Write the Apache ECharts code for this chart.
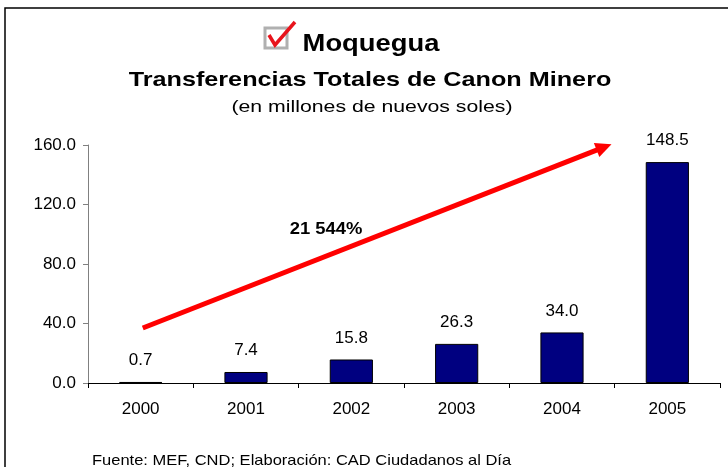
<!DOCTYPE html>
<html><head><meta charset="utf-8">
<script src="https://cdn.jsdelivr.net/npm/echarts@6/dist/echarts.min.js"></script>
<style>html,body{margin:0;padding:0;background:#fff;}#c{width:728px;height:467px;}</style>
</head><body><div id="c"></div>
<script>
var years = ['2000','2001','2002','2003','2004','2005'];
var values = [0.7, 7.4, 15.8, 26.3, 34.0, 148.5];
var yTicks = [0, 40, 80, 120, 160];
var growthLabel = '21 544%';
var arrowStart = [0.02, 37];
var arrowEnd = [4.47, 160.5];

var chart = echarts.init(document.getElementById('c'), null, {renderer:'canvas'});
var F = '"Liberation Sans", Arial, sans-serif';
function txt(x, y, s, font, sx){
  return {type:'text', x:x, y:y, scaleX:sx, originX:0, originY:0,
    style:{text:s, fill:'#000', font:font, align:'center', verticalAlign:'middle'}};
}
chart.setOption({
  animation:false,
  grid:{left:88, right:8, top:145, bottom:84},
  xAxis:[{type:'category', data:years,
    axisLine:{lineStyle:{color:'#000', width:1}},
    axisTick:{show:true, length:5, lineStyle:{color:'#000'}},
    axisLabel:{color:'#000', fontSize:17, fontFamily:F, margin:18}},
    {type:'value', min:-0.5, max:5.5, show:false}],
  yAxis:{type:'value', min:yTicks[0], max:yTicks[yTicks.length-1], interval:40,
    splitLine:{show:false},
    axisLine:{show:true, onZero:false, lineStyle:{color:'#808080', width:1}},
    axisTick:{show:true, length:5, lineStyle:{color:'#808080'}},
    axisLabel:{color:'#000', fontSize:17, fontFamily:F, margin:12,
      formatter:function(v){return v.toFixed(1);}}},
  series:[{type:'bar', data:values, barWidth:'41%',
    itemStyle:{color:'#000080', borderColor:'#000', borderWidth:1},
    label:{show:true, position:'top', distance:13, color:'#000', fontSize:17, fontFamily:F,
      formatter:function(p){return p.value.toFixed(1);}}
  },{
    type:'custom', xAxisIndex:1, silent:true, clip:false,
    data:[[arrowStart[0], arrowStart[1], arrowEnd[0], arrowEnd[1]]],
    encode:{x:[0,2], y:[1,3]},
    renderItem:function(params, api){
      var p0 = api.coord([api.value(0), api.value(1)]);
      var p1 = api.coord([api.value(2), api.value(3)]);
      var dx = p1[0]-p0[0], dy = p1[1]-p0[1], L = Math.sqrt(dx*dx+dy*dy);
      var ux = dx/L, uy = dy/L, nx = -uy, ny = ux;
      var hl = 16, hw = 7.5;
      var b = [p1[0]-ux*hl, p1[1]-uy*hl];
      return {type:'group', children:[
        {type:'line', shape:{x1:p0[0], y1:p0[1], x2:b[0]+ux*2, y2:b[1]+uy*2},
          style:{stroke:'#ff0000', lineWidth:5}},
        {type:'polygon', shape:{points:[p1, [b[0]+nx*hw, b[1]+ny*hw], [b[0]-nx*hw, b[1]-ny*hw]]},
          style:{fill:'#ff0000'}}
      ]};
    }
  }],
  graphic:[
    {type:'rect', shape:{x:5, y:8, width:740, height:480}, style:{fill:'none', stroke:'#000', lineWidth:1.5}, silent:true},
    {type:'rect', shape:{x:265, y:28, width:22, height:20}, style:{fill:'#fff', stroke:'#b0b0b0', lineWidth:3}},
    {type:'polyline', shape:{points:[[269,35],[275,45],[295,22]]}, style:{fill:'none', stroke:'#e8141c', lineWidth:3.5, lineJoin:'miter'}},
    txt(371, 44, 'Moquegua', 'bold 24px '+F, 1.14),
    txt(370, 80, 'Transferencias Totales de Canon Minero', 'bold 21px '+F, 1.2),
    txt(372, 107, '(en millones de nuevos soles)', '17px '+F, 1.25),
    txt(326, 230, growthLabel, 'bold 16px '+F, 1.15),
    {type:'text', x:92, y:461, scaleX:1.1, originX:0, originY:0,
      style:{text:'Fuente: MEF, CND; Elaboración: CAD Ciudadanos al Día', fill:'#000', font:'15px '+F, align:'left', verticalAlign:'middle'}}
  ]
});
</script></body></html>
